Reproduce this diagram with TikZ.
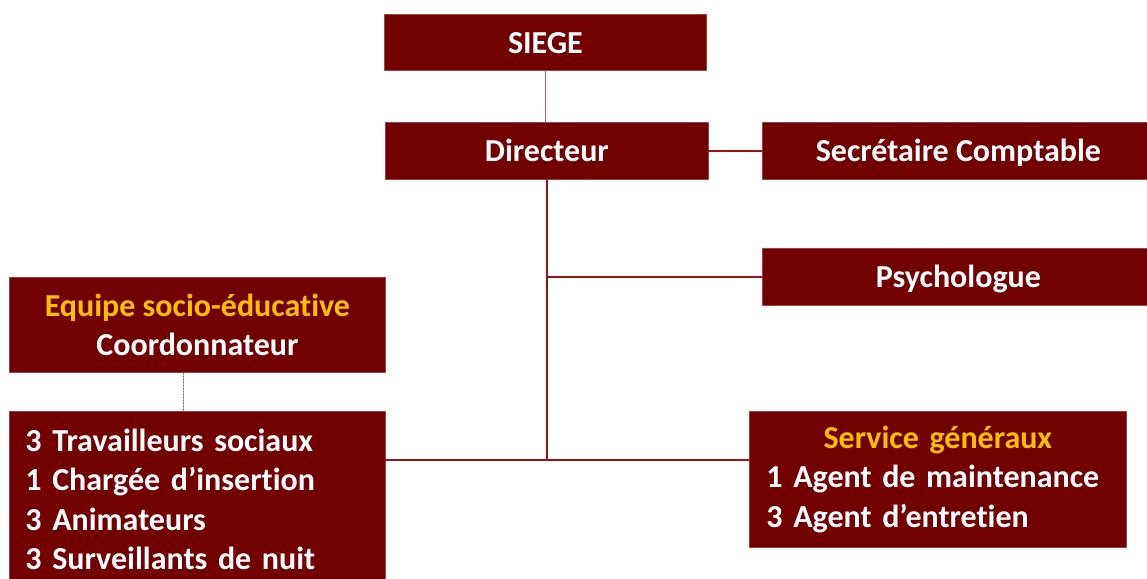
\documentclass[tikz,border=0pt]{standalone}
\usepackage{fontspec}
\setmainfont{Carlito}[Ligatures={NoCommon,NoContextual}]
\definecolor{boxred}{RGB}{114,0,0}
\definecolor{boxedge}{RGB}{150,70,70}
\definecolor{linkred}{RGB}{150,20,20}
\definecolor{linkpale}{RGB}{185,100,100}
\definecolor{linkgrey}{RGB}{80,110,130}
\definecolor{gold}{RGB}{255,192,0}
\tikzset{
box/.style={draw=boxedge, line width=0.8pt, fill=boxred, text=white, inner sep=0pt, anchor=north west,
  font=\fontsize{32}{39.3}\selectfont\bfseries},
onebox/.style={box, text height=29pt, text depth=7pt},
link/.style={draw=linkred, line width=1.3pt}
}
\begin{document}
\begin{tikzpicture}[x=1pt, y=-1pt, line join=round, line cap=round]
\clip (0,0) rectangle (1147,578);
\fill[white] (0,0) rectangle (1147,578);
%Cadres
\path (384,14) coordinate(S)
(385,122) coordinate(D)
(762,122) coordinate(C)
(762,248) coordinate(P)
(9,277) coordinate(E)
(9,411) coordinate(T)
(749,411) coordinate(G)
(547,460) coordinate(J)
;
\node[onebox, minimum width=322, minimum height=56] (siege) at (S) {SIEGE};
\node[onebox, minimum width=323, minimum height=57] (dir) at (D) {Directeur};
\node[onebox, minimum width=392, minimum height=57] (secr) at (C) {Secrétaire Comptable};
\node[onebox, minimum width=392, minimum height=57] (psy) at (P) {Psychologue};
\node[box, minimum width=376, minimum height=95, align=center] (equipe) at (E)
  {\textcolor{gold}{Equipe socio-éducative}\\Coordonnateur};
\node[box, minimum width=376, minimum height=176, text width=344, align=left] (team) at (T)
  {3 Travailleurs sociaux\\1 Chargée d’insertion\\3 Animateurs\\3 Surveillants de nuit};
\node[box, minimum width=377, minimum height=136, text width=343, align=left] (serv) at (G)
  {\makebox[\linewidth]{\textcolor{gold}{Service généraux}}\\1 Agent de maintenance\\3 Agent d’entretien};
%Liens
\draw[draw=linkpale, line width=1.3pt] (siege.south) -- (siege.south |- dir.north);
\draw[link] (dir.east) -- (secr.west);
\draw[link] (dir.south -| J) -- (J);
\draw[link] (J |- psy.west) -- (psy.west);
\draw[link] (team.east |- J) -- (serv.west |- J);
\draw[draw=linkgrey, line width=0.8pt, dash pattern=on 1.5pt off 1.5pt] ([xshift=-14pt]equipe.south) -- ([xshift=-14pt]team.north);
\end{tikzpicture}
\end{document}
